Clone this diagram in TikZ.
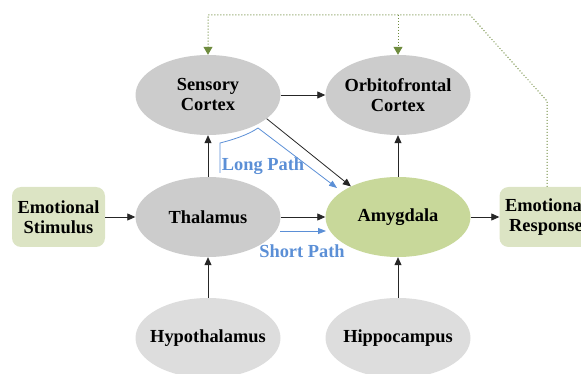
\documentclass[tikz,border=0pt]{standalone}
\usepackage{fontspec}
\setmainfont{Liberation Serif}
\usetikzlibrary{arrows.meta,shapes.geometric}
\definecolor{ggray}{HTML}{CCCCCC}
\definecolor{lgray}{HTML}{DDDDDD}
\definecolor{amyg}{HTML}{C8D89A}
\definecolor{boxg}{HTML}{DCE4C4}
\definecolor{pathblue}{HTML}{5B8FD6}
\definecolor{olive}{HTML}{6E8B3D}
\tikzset{
  region/.style={ellipse, fill=ggray, minimum width=145pt, minimum height=80pt, align=center,
    inner xsep=-25pt, inner ysep=-5pt,
    font=\fontsize{18.4}{20}\selectfont\bfseries},
  lowregion/.style={region, fill=lgray},
  ioBox/.style={rectangle, rounded corners=9pt, fill=boxg, minimum width=93pt, minimum height=60pt, align=center, inner sep=0pt,
    font=\fontsize{18.4}{20}\selectfont\bfseries},
  link/.style={draw=black!85, line width=0.8pt, -{Triangle[length=8pt,width=7pt]}},
  bluelink/.style={draw=pathblue, line width=0.8pt, -{Triangle[length=8pt,width=6pt]}},
  feedback/.style={draw=olive, line width=1pt, dotted, -{Triangle[length=8pt,width=9pt,fill=olive]}},
  pathlabel/.style={text=pathblue, font=\fontsize{18.4}{20}\selectfont\bfseries, inner sep=0pt}
}
\begin{document}
\begin{tikzpicture}[x=1pt,y=-1pt]
\useasboundingbox (0,0) rectangle (581,374);
\clip (0,0) rectangle (581,374);
\node[region] (sens) at (208,95) {Sensory\\Cortex};
\node[region] (orb) at (398,95) {Orbitofrontal\\Cortex};
\node[region] (thal) at (208,217) {Thalamus};
\node[region, fill=amyg] (amy) at (398,217) {Amygdala};
\node[lowregion] (hypo) at (208,338) {Hypothalamus};
\node[lowregion] (hipp) at (398,338) {Hippocampus};
\node[ioBox] (stim) at (58.5,217) {Emotional\\Stimulus};
\node[ioBox] (resp) at (546,217) {Emotional\\Response};

\draw[link] (stim.east) -- (thal.west);
\draw[link] (thal.north) -- (sens.south);
\draw[link] (sens.east) -- (orb.west);
\draw[link] (thal.east) -- (amy.west);
\draw[link] (amy.north) -- (orb.south);
\draw[link] (hypo.north) -- (thal.south);
\draw[link] (hipp.north) -- (amy.south);
\draw[link] (amy.east) -- (resp.west);
\draw[link] (sens.-22) -- (amy.147);

\coordinate (lp0) at (220,173);
\coordinate (lp1) at (220,143);
\coordinate (lp2) at (258,128);
\coordinate (lp3) at (337,188);
\draw[bluelink] (lp0) -- (lp1) .. controls (232,140) and (248,135) .. (lp2) -- (lp3);
\coordinate (sp0) at (280,231);
\coordinate (sp1) at (326,231);
\draw[bluelink] (sp0) -- (sp1);
\node[pathlabel] (lpl) at (263,166) {Long Path};
\node[pathlabel] (spl) at (302,251) {Short Path};

\coordinate (f0) at (547,187);
\coordinate (f1) at (547,101);
\coordinate (f2) at (470,15);
\coordinate (f3) at (398,15);
\coordinate (f4) at (208,15);
\draw[feedback] (f0) -- (f1) -- (f2) -- (f4) -- (sens.north);
\draw[feedback] (f3) -- (orb.north);
\end{tikzpicture}
\end{document}
